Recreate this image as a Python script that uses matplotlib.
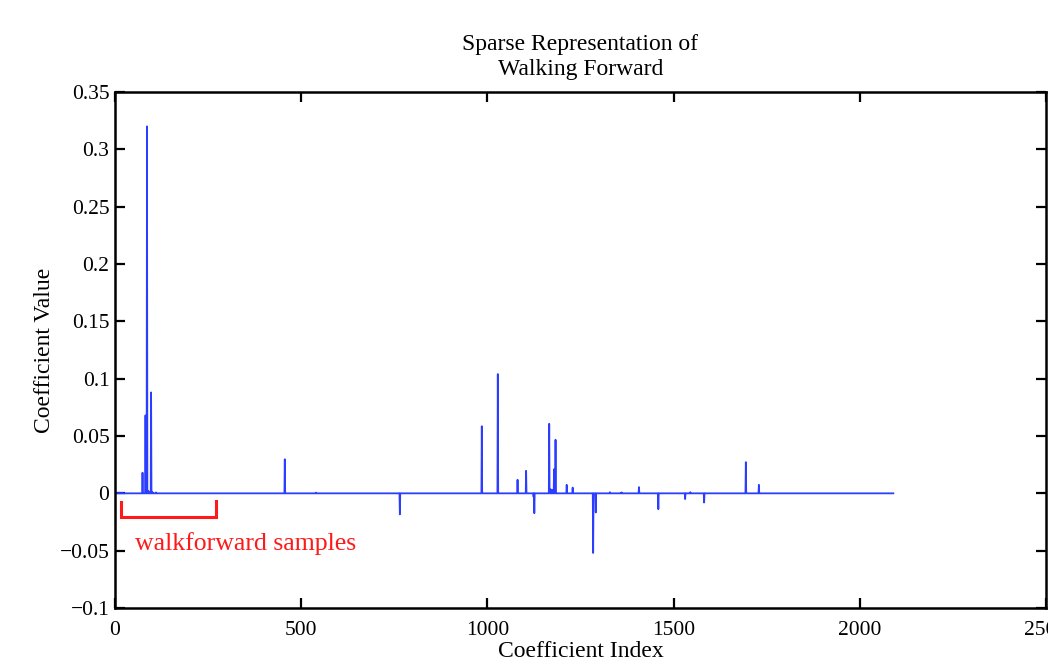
import numpy as np
import matplotlib
matplotlib.use("Agg")
import matplotlib.pyplot as plt

# =========================
# DATA
# =========================
n_coef = 2090
spike_idx = [5, 12, 20, 74, 82, 86, 90, 97, 101, 110, 456, 540, 765,
             985, 1028, 1081, 1104, 1124, 1126, 1166, 1170, 1175, 1179, 1183,
             1213, 1229, 1284, 1291, 1329, 1360, 1407, 1459, 1531, 1545, 1582,
             1694, 1729]
spike_val = [0.0004, 0.0006, 0.0005, 0.018, 0.068, 0.320, 0.002, 0.088, 0.001, 0.0008,
             0.0297, 0.0006, -0.0183,
             0.0585, 0.104, 0.0118, 0.0196, -0.003, -0.0173, 0.0606, 0.0035, 0.003,
             0.021, 0.0467, 0.0074, 0.005, -0.052, -0.0167, 0.001, 0.0008, 0.0054,
             -0.0138, -0.005, 0.001, -0.008, 0.0272, 0.0074]

xticks = [0, 500, 1000, 1500, 2000, 2500]
yticks = [-0.1, -0.05, 0, 0.05, 0.1, 0.15, 0.2, 0.25, 0.3, 0.35]
ytick_labels = ["\u22120.1", "\u22120.05", "0", "0.05", "0.1", "0.15", "0.2",
                "0.25", "0.3", "0.35"]

bracket_x = [16, 16, 271, 271]
bracket_y = [-0.0075, -0.0205, -0.0205, -0.007]

coef = np.zeros(n_coef)
coef[np.array(spike_idx) - 1] = spike_val
idx = np.arange(1, n_coef + 1)

# =========================
# PLOT
# =========================
plt.rcParams['font.family'] = ['Liberation Serif', 'DejaVu Serif']

fig = plt.figure(figsize=(10.48, 6.65), dpi=100)
ax = fig.add_axes([0.1097, 0.0857, 0.8884, 0.776])

ax.plot(idx, coef, color="#2b3dff", linewidth=1.3)
ax.plot(bracket_x, bracket_y, color="#ff1a1a", linewidth=2.2, solid_joinstyle="miter")
ax.text(54, -0.0435, "walkforward samples", color="#ff1a1a", fontsize=18.5,
        va="center", ha="left")

ax.set_xlim(0, 2500)
ax.set_ylim(-0.1, 0.35)
ax.set_xticks(xticks)
ax.set_yticks(yticks)
ax.set_yticklabels(ytick_labels)
ax.tick_params(direction="in", length=7, width=1.6, labelsize=15.5,
               top=True, right=True, pad=4)
ax.tick_params(axis="x", pad=9)
for s in ax.spines.values():
    s.set_linewidth(1.8)

ax.set_xlabel("Coefficient Index", fontsize=17, labelpad=1)
ax.set_ylabel("Coefficient Value", fontsize=17)
ax.yaxis.set_label_coords(-0.064, 0.5)
ax.set_title("Sparse Representation of\nWalking Forward", fontsize=17,
             linespacing=1.25, pad=12)

fig.savefig("out.png", dpi=100)
